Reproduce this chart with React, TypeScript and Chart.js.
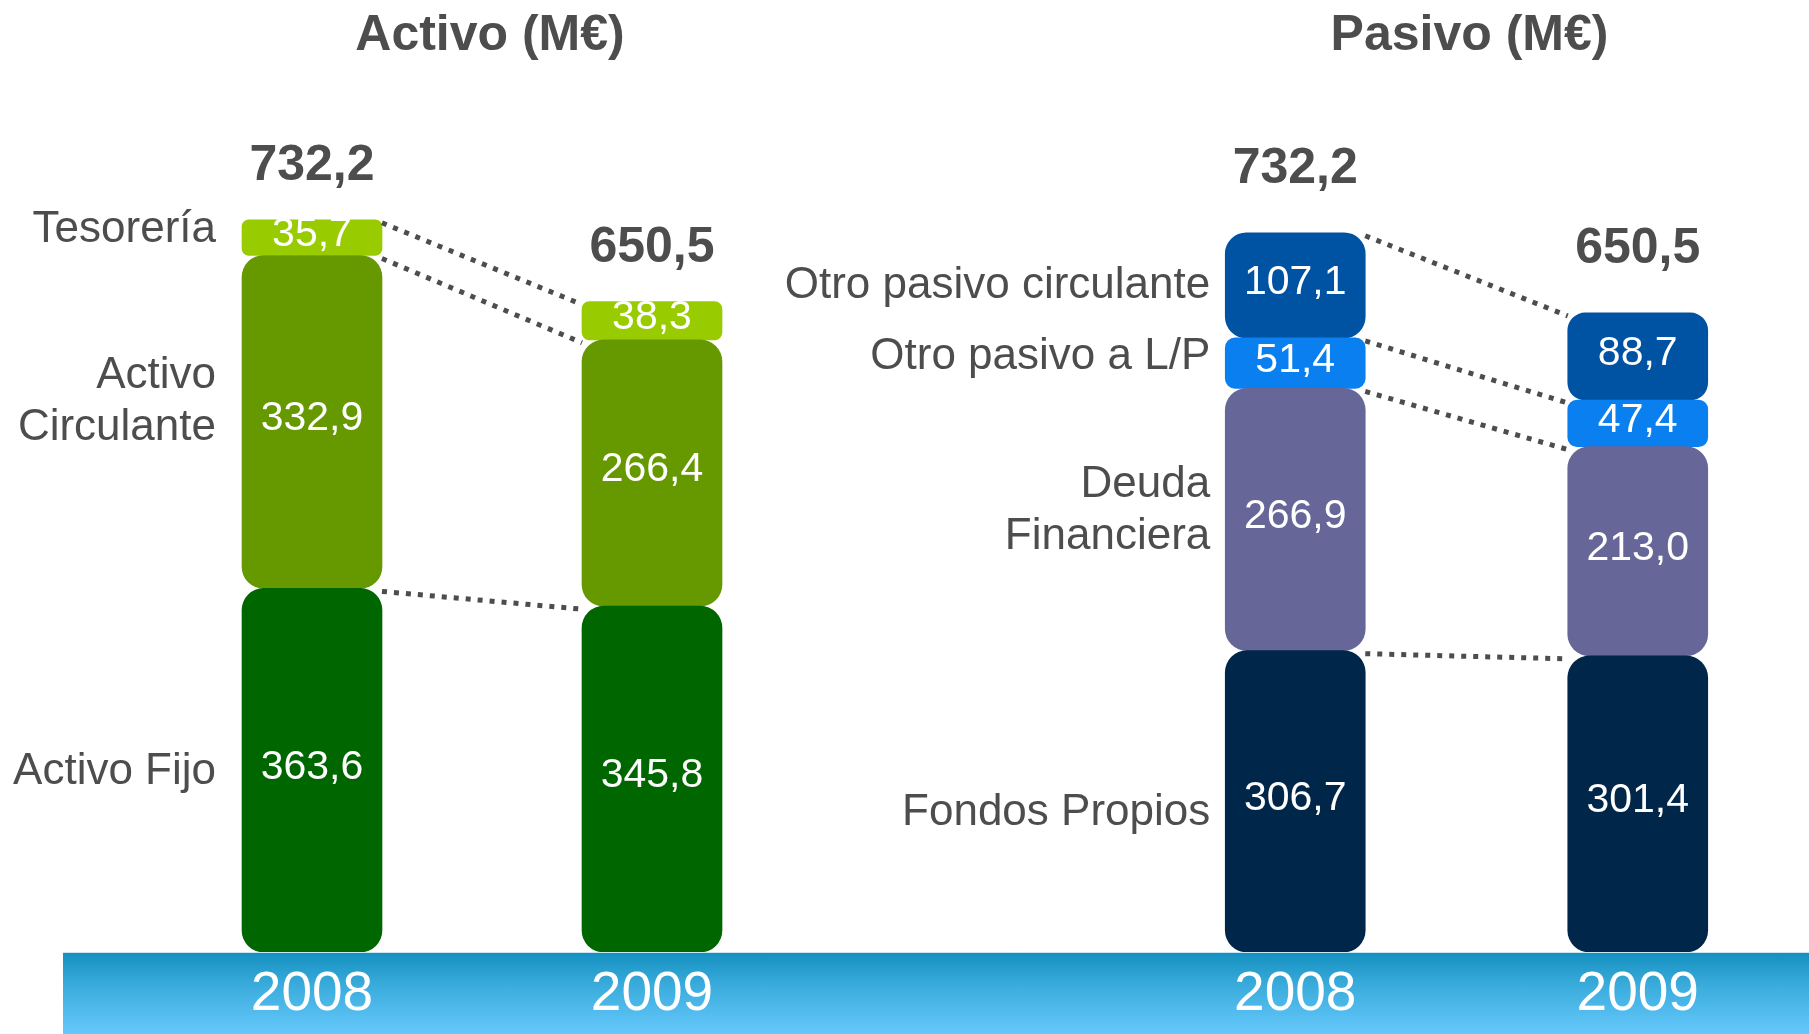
import React, { useEffect, useRef } from "react";
import { Chart, registerables } from "chart.js";

Chart.register(...registerables);

// ---------- data ----------
const years = ["2008", "2009"];

const activoFijo = [363.6, 345.8];
const activoCirculante = [332.9, 266.4];
const tesoreria = [35.7, 38.3];
const activoTotals = [732.2, 650.5];
const activoNames = ["Activo Fijo", "Activo\nCirculante", "Tesorería"];

const fondosPropios = [306.7, 301.4];
const deudaFinanciera = [266.9, 213.0];
const otroPasivoLP = [51.4, 47.4];
const otroPasivoCirculante = [107.1, 88.7];
const pasivoTotals = [732.2, 650.5];
const pasivoNames = ["Fondos Propios", "Deuda\nFinanciera", "Otro pasivo a L/P", "Otro pasivo circulante"];

// ---------- style ----------
const FONT = '"Liberation Sans", Arial, Helvetica, sans-serif';
const GRAY = "#4d4d4d";

const fmt = (v: number) => v.toFixed(1).replace(".", ",");

const radiusFn = (c: any) => {
  const v = c.raw ?? 0;
  const r = Math.min(22, v * 0.2);
  return { topLeft: r, topRight: r, bottomLeft: r, bottomRight: r };
};

const decorPlugin = {
  id: "decor",
  afterDatasetsDraw(chart: any, _args: any, opts: any) {
    const ctx = chart.ctx;
    const area = chart.chartArea;
    const ds = chart.data.datasets;
    ctx.save();

    // title
    ctx.font = `bold 50px ${FONT}`;
    ctx.fillStyle = GRAY;
    ctx.textAlign = "center";
    ctx.textBaseline = "alphabetic";
    ctx.fillText(opts.title, (area.left + area.right) / 2 + opts.titleDx, 50);

    // dotted connectors
    ctx.setLineDash([5, 7]);
    ctx.lineWidth = 5;
    ctx.lineCap = "butt";
    ctx.strokeStyle = GRAY;
    ds.forEach((_d: any, i: number) => {
      const meta = chart.getDatasetMeta(i);
      const a = meta.data[0].getProps(["x", "y", "width"], true);
      const b = meta.data[1].getProps(["x", "y", "width"], true);
      ctx.beginPath();
      ctx.moveTo(a.x + a.width / 2, a.y + 3);
      ctx.lineTo(b.x - b.width / 2, b.y + 3);
      ctx.stroke();
    });
    ctx.setLineDash([]);

    // values inside segments
    ctx.font = `41px ${FONT}`;
    ctx.fillStyle = "#ffffff";
    ctx.textAlign = "center";
    ctx.textBaseline = "middle";
    ds.forEach((d: any, i: number) => {
      const meta = chart.getDatasetMeta(i);
      meta.data.forEach((el: any, j: number) => {
        const p = el.getProps(["x", "y", "base"], true);
        ctx.fillText(fmt(d.data[j]), p.x, (p.y + p.base) / 2 - 3);
      });
    });

    // category names to the left of the first bar
    ctx.font = `44px ${FONT}`;
    ctx.fillStyle = GRAY;
    ctx.textAlign = "right";
    ds.forEach((d: any, i: number) => {
      const meta = chart.getDatasetMeta(i);
      const p = meta.data[0].getProps(["x", "y", "base", "width"], true);
      const lines = String(d.label).split("\n");
      const cy = (p.y + p.base) / 2 + (opts.nudges[i] || 0);
      const x = p.x - p.width / 2 - opts.labelGap;
      lines.forEach((ln: string, k: number) => {
        ctx.fillText(ln, x, cy + (k - (lines.length - 1) / 2) * 52);
      });
    });

    // totals above the stacks
    ctx.font = `bold 50px ${FONT}`;
    ctx.textAlign = "center";
    ctx.textBaseline = "alphabetic";
    const topMeta = chart.getDatasetMeta(ds.length - 1);
    topMeta.data.forEach((el: any, j: number) => {
      const p = el.getProps(["x", "y"], true);
      ctx.fillText(fmt(opts.totals[j]), p.x, p.y - opts.totalOffset);
    });

    ctx.restore();
  },
};

function makeConfig(datasets: any[], padding: any, decor: any, max: number) {
  return {
    type: "bar",
    data: { labels: years, datasets },
    options: {
      responsive: false,
      animation: false,
      layout: { padding },
      plugins: {
        legend: { display: false },
        tooltip: { enabled: false },
        decor,
      },
      datasets: {
        bar: {
          barThickness: 140,
          borderSkipped: false,
          borderWidth: 0,
          borderRadius: radiusFn,
        },
      },
      scales: {
        x: {
          stacked: true,
          grid: { display: false, drawTicks: false },
          border: { display: false },
          ticks: { color: "#ffffff", font: { size: 55, family: FONT }, padding: 10 },
        },
        y: { stacked: true, display: false, min: 0, max },
      },
    },
    plugins: [decorPlugin],
  } as any;
}

export default function App() {
  const leftRef = useRef<HTMLCanvasElement>(null);
  const rightRef = useRef<HTMLCanvasElement>(null);

  useEffect(() => {
    const left = new Chart(
      leftRef.current as HTMLCanvasElement,
      makeConfig(
        [
          { label: activoNames[0], data: activoFijo, backgroundColor: "#006600" },
          { label: activoNames[1], data: activoCirculante, backgroundColor: "#669900" },
          { label: activoNames[2], data: tesoreria, backgroundColor: "#99cc00" },
        ],
        { left: 142, right: 78, top: 152, bottom: 0 },
        { title: "Activo (M€)", titleDx: 8, totals: activoTotals, totalOffset: 40, labelGap: 26, nudges: [2, -20, -8] },
        800
      )
    );
    const right = new Chart(
      rightRef.current as HTMLCanvasElement,
      makeConfig(
        [
          { label: pasivoNames[0], data: fondosPropios, backgroundColor: "#00264a" },
          { label: pasivoNames[1], data: deudaFinanciera, backgroundColor: "#666699" },
          { label: pasivoNames[2], data: otroPasivoLP, backgroundColor: "#0a80f0" },
          { label: pasivoNames[3], data: otroPasivoCirculante, backgroundColor: "#0052a3" },
        ],
        { left: 424, right: 0, top: 166, bottom: 0 },
        { title: "Pasivo (M€)", titleDx: 3, totals: pasivoTotals, totalOffset: 50, labelGap: 15, nudges: [12, -9, -6, 1] },
        800
      )
    );
    return () => {
      left.destroy();
      right.destroy();
    };
  }, []);

  return (
    <div
      style={{
        position: "fixed",
        left: 0,
        top: 0,
        width: 1809,
        height: 1034,
        overflow: "hidden",
        background: "#ffffff",
      }}
    >
      <div
        style={{
          position: "absolute",
          left: 63,
          top: 952,
          width: 1746,
          height: 82,
          background: "linear-gradient(to bottom, #1490c0 0%, #3aacdc 40%, #66c8fc 100%)",
          borderTop: "1px solid #c9e8f4",
          boxSizing: "border-box",
        }}
      />
      <canvas
        ref={leftRef}
        width={900}
        height={1038}
        style={{ position: "absolute", left: 0, top: 0, width: 900, height: 1038 }}
      />
      <canvas
        ref={rightRef}
        width={1109}
        height={1038}
        style={{ position: "absolute", left: 700, top: 0, width: 1109, height: 1038 }}
      />
    </div>
  );
}
